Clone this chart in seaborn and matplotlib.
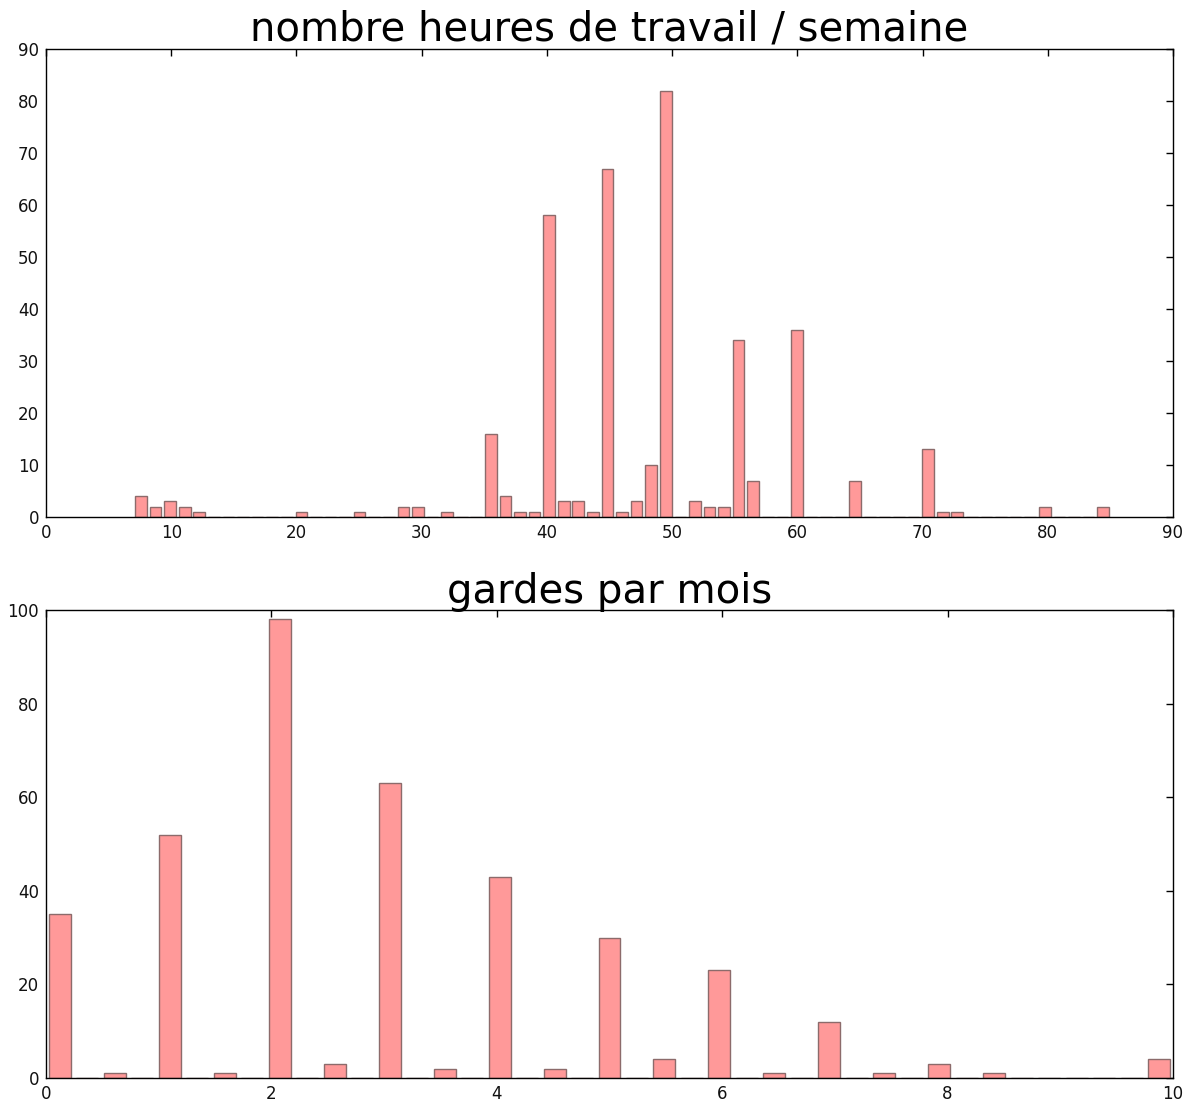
import matplotlib
matplotlib.use("Agg")
import matplotlib.pyplot as plt
import seaborn as sns
import numpy as np

# Weekly working hours: distinct answers and how many people gave each
heures = [8, 9, 10, 11, 12, 20, 25, 28, 30, 32, 35, 37, 38, 39, 40, 41, 42, 44,
          45, 46, 47, 48, 50, 52, 53, 54, 55, 57, 60, 65, 70, 72, 73, 80, 85]
heures_n = [4, 2, 3, 2, 1, 1, 1, 2, 2, 1, 16, 4, 1, 1, 58, 3, 3, 1,
            67, 1, 3, 10, 82, 3, 2, 2, 34, 7, 36, 7, 13, 1, 1, 2, 2]

# On-call shifts per month
gardes = [0, 0.5, 1, 1.5, 2, 2.5, 3, 3.5, 4, 4.5, 5, 5.5, 6, 6.5, 7, 7.5, 8, 8.5, 10]
gardes_n = [35, 1, 52, 1, 98, 3, 63, 2, 43, 2, 30, 4, 23, 1, 12, 1, 3, 1, 4]

titre_haut = "nombre heures de travail / semaine"
titre_bas = "gardes par mois"

sns.set_style("white")
plt.rcParams["font.family"] = ["DejaVu Sans"]

fig, (ax1, ax2) = plt.subplots(2, 1, figsize=(11.93, 11.03), dpi=100)
fig.subplots_adjust(left=0.0386, right=0.9832, top=0.9556, bottom=0.0227, hspace=0.199)

bar_kw = dict(facecolor=(1.0, 0.6, 0.6), edgecolor=(0.55, 0.42, 0.42), linewidth=1.0, shrink=0.8)

sns.histplot(x=heures, weights=heures_n, bins=67, binrange=(7, 85), ax=ax1, **bar_kw)
sns.histplot(x=gardes, weights=gardes_n, bins=41, binrange=(0, 10), ax=ax2, **bar_kw)

ax1.set_xlim(0, 90)
ax1.set_ylim(0, 90)
ax1.set_xticks(np.arange(0, 91, 10))
ax1.set_yticks(np.arange(0, 91, 10))
ax1.set_title(titre_haut, fontsize=29, pad=6, color="black")

ax2.set_xlim(0, 10)
ax2.set_ylim(0, 100)
ax2.set_xticks(np.arange(0, 11, 2))
ax2.set_yticks(np.arange(0, 101, 20))
ax2.set_title(titre_bas, fontsize=29, pad=5, color="black")

for ax in (ax1, ax2):
    ax.set_xlabel("")
    ax.set_ylabel("")
    ax.tick_params(direction="in", top=True, right=True, length=5, width=1,
                   labelsize=12, color="black", labelcolor="#111111", pad=5)
    for s in ax.spines.values():
        s.set_color("black")
        s.set_linewidth(1.0)
        s.set_zorder(3)

fig.savefig("out.png", dpi=100, facecolor="white")
